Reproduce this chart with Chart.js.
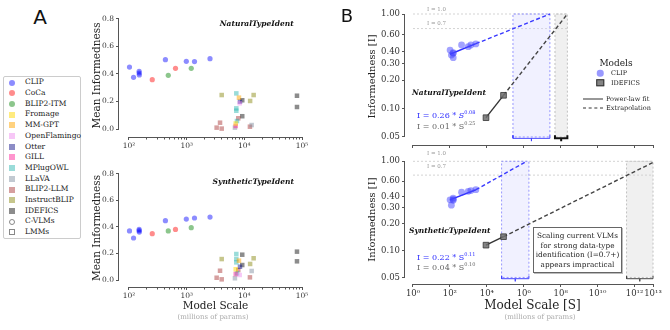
<!DOCTYPE html>
<html>
<head>
<meta charset="utf-8">
<script src="https://cdn.jsdelivr.net/npm/chart.js@4.4.1/dist/chart.umd.min.js"></script>
<style>
  body { margin: 0; width: 670px; height: 330px; position: relative; background: #fff; overflow: hidden; font-family: "DejaVu Serif", serif; color: #222; }
  canvas { position: absolute; }
  .t { position: absolute; white-space: nowrap; line-height: 1; }
  #legendA { position: absolute; left: 3px; top: 76px; width: 76px; height: 161px; border: 1px solid #ccc; border-radius: 2px; font-size: 7.5px; }
  #legendA .row { position: absolute; left: 0; height: 10.7px; line-height: 10.7px; }
  #legendA .mk { position: absolute; left: 5px; top: 2.3px; width: 6px; height: 6px; box-sizing: border-box; }
  #legendA .lb { position: absolute; left: 21px; top: 0; white-space: nowrap; }
  .box { position: absolute; left: 533px; top: 227px; width: 89px; height: 46px; box-sizing: border-box; border: 1.5px solid #666; box-shadow: 1px 1px 0 #bbb; font-size: 7.3px; line-height: 9.6px; text-align: center; padding-top: 3px; }
</style>
</head>
<body>
<canvas id="a1" width="240" height="165" style="left:84px;top:0px"></canvas>
<canvas id="a2" width="240" height="170" style="left:84px;top:160px"></canvas>
<canvas id="b1" width="340" height="155" style="left:330px;top:0px"></canvas>
<canvas id="b2" width="340" height="182" style="left:330px;top:148px"></canvas>
<div id="legendA"></div>
<div class="box">Scaling current VLMs<br>for strong data-type<br>identification (I=0.7+)<br>appears impractical</div>

<script>
// ---- panel A data ----
const models = ["CLIP", "CoCa", "BLIP2-ITM", "Fromage", "MM-GPT", "OpenFlamingo", "Otter", "GILL",
  "MPlugOWL", "LLaVA", "BLIP2-LLM", "InstructBLIP", "IDEFICS"];
const modelColors = ["rgba(0,0,255,0.45)", "rgba(255,0,0,0.45)", "rgba(0,128,0,0.45)", "rgba(255,215,0,0.5)",
  "rgba(255,165,0,0.5)", "rgba(238,130,238,0.45)", "rgba(0,0,128,0.45)", "rgba(255,20,147,0.45)",
  "rgba(32,178,170,0.45)", "rgba(119,136,153,0.45)", "rgba(165,42,42,0.45)", "rgba(128,128,0,0.45)", "rgba(0,0,0,0.45)"];
const cvlmCount = 3; // first three are contrastive VLMs, drawn as circles

// model scale in millions of params
const modelScale = [
  [102, 120, 150, 150, 151, 428, 986, 1367, 2540],
  [253, 640],
  [480, 1200],
  [7080],
  [8070],
  [8300],
  [8400],
  [7080],
  [7260, 7260, 7260, 7450],
  [6870, 13400],
  [3310, 3790, 4050, 7850, 12500],
  [4050, 12600, 14500],
  [9200, 9200, 81800, 81800]
];
const naturalScores = [
  [0.45, 0.376, 0.42, 0.407, 0.393, 0.504, 0.492, 0.49, 0.511],
  [0.359, 0.441],
  [0.39, 0.441],
  [0.04],
  [0.228],
  [0.187],
  [0.199],
  [0.022],
  [0.259, 0.15, 0.133, 0.058],
  [0.01, 0.029],
  [0.01, 0.046, 0.003, 0.078, 0.017],
  [0.247, 0.204, 0.247],
  [0.209, 0.093, 0.242, 0.16]
];
const syntheticScores = [
  [0.37, 0.317, 0.382, 0.372, 0.362, 0.448, 0.46, 0.468, 0.475],
  [0.35, 0.382],
  [0.37, 0.395],
  [0.081],
  [0.146],
  [0.038],
  [0.1],
  [0.045],
  [0.196, 0.158, 0.133, 0.05],
  [0.013, 0.068],
  [0.017, 0.07, 0.005, 0.075, 0.02],
  [0.158, 0.121, 0.164],
  [0.191, 0.113, 0.214, 0.141]
];
const ticksA_y = [0, 0.2, 0.4, 0.6, 0.8];
const ticksA_x = [1e2, 1e3, 1e4, 1e5];

// ---- panel B data ----
const clipScaleB = [102, 120, 150, 150, 151, 428, 986, 1367, 2540];
const clipNaturalB = [0.415, 0.368, 0.384, 0.39, 0.345, 0.47, 0.451, 0.47, 0.482];
const clipSyntheticB = [0.37, 0.322, 0.387, 0.375, 0.365, 0.45, 0.46, 0.47, 0.48];
const ideficsScaleB = [9000, 80000];
const ideficsNaturalB = [0.08, 0.138];
const ideficsSyntheticB = [0.115, 0.143];

// fitted lines (solid part) and extrapolations, as end points [S, I]
const naturalClipFit = [[100, 0.375], [2540, 0.485]];
const naturalClipExtrap = [[2540, 0.485], [2.6e7, 1.0]];
const naturalIdeficsFit = [[9000, 0.08], [80000, 0.138]];
const naturalIdeficsExtrap = [[80000, 0.138], [2.3e8, 1.0]];
const syntheticClipFit = [[100, 0.37], [2540, 0.48]];
const syntheticClipExtrap = [[2540, 0.48], [1.45e6, 1.0]];
const syntheticIdeficsFit = [[9000, 0.115], [80000, 0.143]];
const syntheticIdeficsExtrap = [[80000, 0.143], [1e13, 0.97]];

// ranges of S between I=0.7 and I=1.0
const naturalClipBand = [2.6e5, 2.6e7];
const naturalIdeficsBand = [4.9e7, 2.3e8];
const syntheticClipBand = [6.3e4, 1.9e6];
const syntheticIdeficsBand = [3.7e11, 1e13];
const thresholds = [1.0, 0.7];
const naturalThresholdEnd = 2.3e8;
const syntheticThresholdEnd = 1e13;

const ticksB_y = [0.05, 0.1, 0.2, 0.3, 0.4, 0.6, 1.0];
const ticksB_x = [1e0, 1e2, 1e4, 1e6, 1e8, 1e10, 1e12, 1e13];

// ---- helpers ----
const SERIF = "DejaVu Serif";
const sup = { "0": "⁰", "1": "¹", "2": "²", "3": "³", "4": "⁴", "5": "⁵", "6": "⁶", "7": "⁷", "8": "⁸", "9": "⁹" };
const pow10 = v => "10" + String(Math.round(Math.log10(v))).split("").map(c => sup[c]).join("");
const xy = (xs, ys) => xs.map((x, i) => ({ x: x, y: ys[i] }));
const pts = arr => arr.map(p => ({ x: p[0], y: p[1] }));

// detached spines like seaborn's despine(offset), plus optional minor ticks
const spines = {
  id: "spines",
  afterDraw(chart, args, opts) {
    const { ctx, chartArea } = chart;
    const x = chart.scales.x, y = chart.scales.y;
    const yp = y.ticks.map(t => y.getPixelForValue(t.value));
    const xp = x.ticks.map(t => x.getPixelForValue(t.value));
    ctx.save();
    ctx.strokeStyle = "#555";
    ctx.lineWidth = 1;
    ctx.beginPath();
    const lx = Math.round(chartArea.left) - 0.5;
    const by = Math.round(chartArea.bottom) + 0.5;
    ctx.moveTo(lx, Math.min(...yp));
    ctx.lineTo(lx, Math.max(...yp));
    ctx.moveTo(Math.min(...xp), by);
    ctx.lineTo(Math.max(...xp), by);
    (opts.minorX || []).forEach(v => {
      const px = Math.round(x.getPixelForValue(v)) + 0.5;
      ctx.moveTo(px, by);
      ctx.lineTo(px, by + 2);
    });
    (opts.minorY || []).forEach(v => {
      const py = Math.round(y.getPixelForValue(v)) + 0.5;
      ctx.moveTo(lx, py);
      ctx.lineTo(lx - 2, py);
    });
    ctx.stroke();
    ctx.restore();
  }
};

function axis(type, min, max, ticks, fmt, fontSize, size, isX, title) {
  return {
    type: type, min: min, max: max, bounds: "data",
    afterBuildTicks: s => { s.ticks = ticks.map(v => ({ value: v })); },
    afterFit: s => { if (isX) s.height = size; else s.width = size; },
    ticks: {
      display: !!fmt, autoSkip: false, maxRotation: 0, padding: 2,
      callback: fmt ? (v => fmt(v)) : undefined,
      font: { family: SERIF, size: fontSize }, color: "#333"
    },
    grid: { drawOnChartArea: false, drawTicks: true, tickLength: 3, color: "#555", lineWidth: 1 },
    border: { display: false },
    title: title || { display: false }
  };
}

function makeChart(id, datasets, scales, padding, spineOpts) {
  return new Chart(document.getElementById(id), {
    type: "scatter",
    data: { datasets: datasets },
    options: {
      responsive: false, animation: false, devicePixelRatio: 1,
      layout: { padding: padding },
      plugins: { legend: { display: false }, tooltip: { enabled: false }, spines: spineOpts || {} },
      scales: scales
    },
    plugins: [spines]
  });
}

// ---- panel A ----
const minorA = [];
for (let e = 2; e < 5; e++) for (let k = 2; k < 10; k++) minorA.push(k * Math.pow(10, e));

function datasetsA(scores) {
  return models.map((m, i) => ({
    label: m,
    data: xy(modelScale[i], scores[i]),
    pointStyle: i < cvlmCount ? "circle" : "rect",
    pointRadius: i < cvlmCount ? 2.6 : 3.2,
    backgroundColor: modelColors[i],
    borderWidth: 0
  }));
}

const aTitleY = { display: true, text: "Mean Informedness", font: { family: SERIF, size: 10.5 }, color: "#222", padding: { top: 7, bottom: 0 } };

makeChart("a1", datasetsA(naturalScores), {
  x: axis("logarithmic", 67.1, 149000, ticksA_x, pow10, 7.5, 28, true),
  y: axis("linear", -0.058, 0.836, ticksA_y, v => v.toFixed(1), 7.5, 35, false, aTitleY)
}, { left: 0, top: 14, right: 12, bottom: 0 }, { minorX: minorA });

makeChart("a2", datasetsA(syntheticScores), {
  x: axis("logarithmic", 67.1, 149000, ticksA_x, pow10, 7.5, 43, true,
    { display: true, text: "Model Scale", font: { family: SERIF, size: 10.5 }, color: "#222", padding: { top: 0, bottom: 17.5 } }),
  y: axis("linear", -0.0528, 0.8377, ticksA_y, v => v.toFixed(1), 7.5, 35, false, aTitleY)
}, { left: 0, top: 9, right: 12, bottom: 0 }, { minorX: minorA });

// ---- panel B ----
function band(range, fill, border) {
  return {
    data: pts([[range[0], 0.05], [range[0], 1.0], [range[1], 1.0], [range[1], 0.05], [range[0], 0.05]]),
    showLine: true, fill: "shape", backgroundColor: fill, borderColor: border,
    borderWidth: 1, borderDash: [2, 2], pointRadius: 0, order: 5
  };
}
function brace(range, color, width) {
  const xm = Math.sqrt(range[0] * range[1]);
  return {
    data: pts([[range[0], 0.052], [range[0], 0.0484], [xm, 0.0484], [xm, 0.0452], [xm, 0.0484], [range[1], 0.0484], [range[1], 0.052]]),
    showLine: true, borderColor: color, borderWidth: width, pointRadius: 0, fill: false, order: 2
  };
}
function line(p, color, dash) {
  return { data: pts(p), showLine: true, borderColor: color, borderWidth: 1.4, borderDash: dash || [], pointRadius: 0, fill: false, order: 1 };
}
function thresholdLines(end) {
  return thresholds.map(t => ({
    data: pts([[1, t], [end, t]]), showLine: true, borderColor: "#c8c8c8", borderWidth: 0.8,
    borderDash: [2, 2], pointRadius: 0, fill: false, order: 6
  }));
}
function datasetsB(clipVals, ideficsVals, clipFit, clipExt, idFit, idExt, clipBand, idBand, idBraceColor, idBraceWidth, thrEnd) {
  return [
    { data: xy(clipScaleB, clipVals), pointStyle: "circle", pointRadius: 3.4, backgroundColor: "rgba(70,70,255,0.5)", borderWidth: 0, order: 0 },
    { data: xy(ideficsScaleB, ideficsVals), pointStyle: "rect", pointRadius: 4, backgroundColor: "rgba(110,110,110,0.85)", borderColor: "#333", borderWidth: 0.8, order: 0 },
    line(clipFit, "#2b2bff"),
    line(clipExt, "#3838ff", [4, 2.5]),
    line(idFit, "#333"),
    line(idExt, "#444", [4, 2.5]),
    band(clipBand, "rgba(215,215,255,0.35)", "rgba(110,110,255,0.7)"),
    band(idBand, "rgba(205,205,205,0.3)", "#c0c0c0"),
    brace(clipBand, "#4040ff", 1),
    brace(idBand, idBraceColor, idBraceWidth)
  ].concat(thresholdLines(thrEnd));
}

const bTitleY = { display: true, text: "Informedness [I]", font: { family: SERIF, size: 10 }, color: "#222", padding: { top: 36, bottom: 0 } };
const fmtB = v => v.toFixed(2);

makeChart("b1", datasetsB(clipNaturalB, ideficsNaturalB, naturalClipFit, naturalClipExtrap, naturalIdeficsFit,
  naturalIdeficsExtrap, naturalClipBand, naturalIdeficsBand, "#111", 2, naturalThresholdEnd), {
  x: axis("logarithmic", Math.pow(10, -0.433), Math.pow(10, 13.379), ticksB_x, null, 8.5, 10, true),
  y: axis("logarithmic", 0.04113, 1.1575, ticksB_y, fmtB, 8.5, 75, false, bTitleY)
}, { left: 0, top: 8, right: 10, bottom: 0 });

makeChart("b2", datasetsB(clipSyntheticB, ideficsSyntheticB, syntheticClipFit, syntheticClipExtrap, syntheticIdeficsFit,
  syntheticIdeficsExtrap, syntheticClipBand, syntheticIdeficsBand, "#444", 1, syntheticThresholdEnd), {
  x: axis("logarithmic", Math.pow(10, -0.433), Math.pow(10, 13.379), ticksB_x, pow10, 8.5, 46, true,
    { display: true, text: "Model Scale [S]", font: { family: SERIF, size: 12 }, color: "#222", padding: { top: 0, bottom: 17 } }),
  y: axis("logarithmic", 0.04223, 1.172, ticksB_y, fmtB, 8.5, 75, false, bTitleY)
}, { left: 0, top: 4, right: 10, bottom: 0 });

// ---- text and legends ----
function text(html, x, y, css, left) {
  const d = document.createElement("div");
  d.className = "t";
  d.innerHTML = html;
  d.style.cssText = "left:" + x + "px;top:" + y + "px;transform:translate(" + (left ? "0" : "-50%") + ",-50%);" + (css || "");
  document.body.appendChild(d);
}
const titleCss = "font-weight:bold;font-style:italic;font-size:7.5px;color:#111;";
text("A", 40, 17, "font-family:'DejaVu Sans';font-size:20px;color:#111;");
text("B", 347, 16, "font-family:'DejaVu Sans';font-size:18px;color:#111;");
text("NaturalTypeIdent", 256.7, 24, titleCss);
text("SyntheticTypeIdent", 253.3, 182, titleCss);
text("NaturalTypeIdent", 412, 93, titleCss, true);
text("SyntheticTypeIdent", 409, 231, titleCss, true);
text("I = 0.26 * <i>S</i><sup style='font-size:5px'>0.08</sup>", 417, 115, "font-size:8px;color:#2b2bff;", true);
text("I = 0.01 * S<sup style='font-size:5px'>0.25</sup>", 417, 126, "font-size:8px;color:#666;", true);
text("I = 0.22 * S<sup style='font-size:5px'>0.11</sup>", 417, 256.5, "font-size:8px;color:#2b2bff;", true);
text("I = 0.04 * S<sup style='font-size:5px'>0.10</sup>", 417, 267, "font-size:8px;color:#666;", true);
text("I = 1.0", 427, 10, "font-size:5.5px;color:#999;", true);
text("I = 0.7", 427, 23.5, "font-size:5.5px;color:#999;", true);
text("I = 1.0", 427, 153.5, "font-size:5.5px;color:#999;", true);
text("I = 0.7", 427, 166.5, "font-size:5.5px;color:#999;", true);
text("(millions of params)", 213, 317, "font-size:7px;color:#aaa;");
text("(millions of params)", 540, 317, "font-size:7px;color:#aaa;");

// legend B
text("Models", 616, 62.5, "font-size:9px;color:#222;");
text("", 600, 73.3, "width:6.5px;height:6.5px;border-radius:50%;background:rgba(70,70,255,0.55);");
text("CLIP", 611, 73.3, "font-size:6.5px;", true);
text("", 600, 82.7, "width:5.5px;height:5.5px;background:rgba(110,110,110,0.85);border:0.8px solid #333;");
text("IDEFICS", 611, 82.7, "font-size:6.5px;", true);
text("", 593, 99.3, "width:20px;border-top:1.4px solid #333;");
text("Power-law fit", 606, 99.3, "font-size:6.5px;", true);
text("", 593, 108.3, "width:20px;border-top:1.4px dashed #333;");
text("Extrapolation", 606, 108.3, "font-size:6.5px;", true);

// legend A
const legendA = document.getElementById("legendA");
const legendItems = models.map((m, i) => ({ label: m, color: modelColors[i], round: i < cvlmCount, hollow: false }))
  .concat([{ label: "C-VLMs", color: "#888", round: true, hollow: true }, { label: "LMMs", color: "#888", round: false, hollow: true }]);
legendItems.forEach((it, i) => {
  const row = document.createElement("div");
  row.className = "row";
  row.style.top = (0.3 + i * 10.7) + "px";
  const mk = document.createElement("span");
  mk.className = "mk";
  if (it.round) mk.style.borderRadius = "50%";
  if (it.hollow) mk.style.border = "0.8px solid " + it.color;
  else mk.style.background = it.color;
  const lb = document.createElement("span");
  lb.className = "lb";
  lb.textContent = it.label;
  row.appendChild(mk);
  row.appendChild(lb);
  legendA.appendChild(row);
});
</script>
</body>
</html>
